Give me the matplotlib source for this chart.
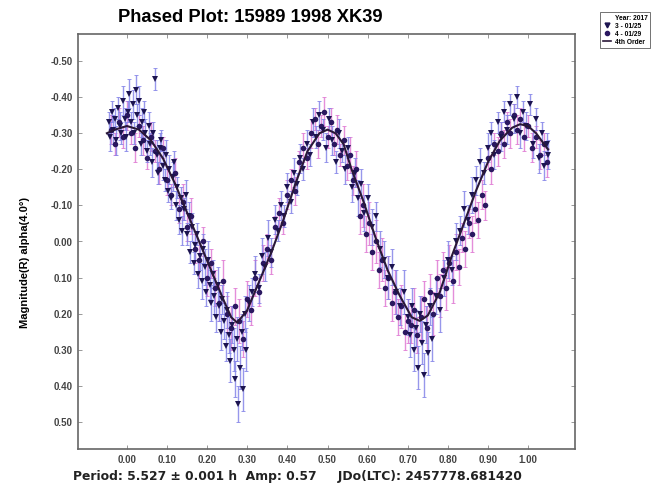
import numpy as np
import matplotlib
matplotlib.use("Agg")
import matplotlib.pyplot as plt
from matplotlib.lines import Line2D

plt.rcParams['font.family'] = ['Liberation Sans', 'DejaVu Sans']
plt.rcParams['axes.unicode_minus'] = False

# session 3 - 01/25 (triangles, blue error bars)
phase3 = [-0.045, -0.042, -0.038, -0.035, -0.030, -0.027, -0.022, -0.018, -0.014, -0.010,
          -0.006, -0.002, 0.002, 0.006, 0.010, 0.014, 0.018, 0.022, 0.026, 0.030,
          0.034, 0.038, 0.042, 0.046, 0.050, 0.054, 0.058, 0.062, 0.066, 0.070,
          0.074, 0.078, 0.082, 0.086, 0.090, 0.094, 0.098, 0.102, 0.106, 0.110,
          0.114, 0.118, 0.122, 0.126, 0.130, 0.134, 0.138, 0.142, 0.146, 0.150,
          0.154, 0.158, 0.162, 0.166, 0.170, 0.174, 0.178, 0.182, 0.186, 0.190,
          0.194, 0.198, 0.202, 0.206, 0.210, 0.214, 0.218, 0.222, 0.226, 0.230,
          0.234, 0.238, 0.242, 0.246, 0.250, 0.254, 0.258, 0.262, 0.266, 0.270,
          0.274, 0.278, 0.282, 0.286, 0.290, 0.294, 0.298, 0.305, 0.312, 0.320,
          0.328, 0.336, 0.344, 0.352, 0.360, 0.368, 0.376, 0.384, 0.392, 0.400,
          0.408, 0.416, 0.424, 0.432, 0.440, 0.448, 0.456, 0.464, 0.472, 0.480,
          0.488, 0.496, 0.504, 0.512, 0.520, 0.528, 0.536, 0.544, 0.552, 0.560,
          0.568, 0.576, 0.584, 0.592, 0.600, 0.610, 0.620, 0.630, 0.640, 0.650,
          0.660, 0.670, 0.680, 0.690, 0.700, 0.705, 0.710, 0.715, 0.720, 0.725,
          0.730, 0.735, 0.740, 0.745, 0.750, 0.755, 0.760, 0.770, 0.780, 0.790,
          0.800, 0.810, 0.820, 0.830, 0.840, 0.850, 0.860, 0.870, 0.880, 0.890,
          0.900, 0.908, 0.916, 0.924, 0.932, 0.940, 0.948, 0.956, 0.964, 0.972,
          0.980, 0.988, 0.996, 1.004, 1.012, 1.020, 1.028, 1.034, 1.040, 1.046,
          1.050]
mag3 = [-0.33, -0.29, -0.36, -0.31, -0.34, -0.28, -0.37, -0.32, -0.30, -0.39,
        -0.34, -0.29, -0.36, -0.41, -0.33, -0.38, -0.30, -0.42, -0.35, -0.39,
        -0.27, -0.33, -0.36, -0.30, -0.25, -0.32, -0.27, -0.22, -0.30, -0.45,
        -0.24, -0.19, -0.26, -0.28, -0.21, -0.17, -0.24, -0.14, -0.20, -0.12,
        -0.18, -0.22, -0.10, -0.15, -0.06, -0.12, -0.03, -0.09, -0.13, -0.02,
        -0.07, 0.03, -0.04, 0.06, 0.01, -0.02, 0.09, 0.04, 0.11, 0.02,
        0.07, 0.14, 0.05, 0.12, 0.17, 0.09, 0.15, 0.21, 0.12, 0.18,
        0.25, 0.16, 0.22, 0.29, 0.19, 0.26, 0.33, 0.23, 0.30, 0.38,
        0.27, 0.45, 0.35, 0.25, 0.41, 0.20, 0.30, 0.17, 0.14, 0.09,
        0.13, 0.04, 0.07, -0.01, 0.03, -0.06, -0.03, -0.10, -0.07, -0.15,
        -0.11, -0.19, -0.16, -0.23, -0.20, -0.27, -0.24, -0.33, -0.29, -0.35,
        -0.31, -0.26, -0.34, -0.28, -0.22, -0.30, -0.25, -0.20, -0.26, -0.15,
        -0.19, -0.12, -0.16, -0.08, -0.12, -0.04, -0.07, 0.02, 0.05, 0.10,
        0.07, 0.14, 0.18, 0.14, 0.21, 0.26, 0.18, 0.30, 0.24, 0.35,
        0.20, 0.28, 0.37, 0.23, 0.31, 0.18, 0.27, 0.15, 0.19, 0.10,
        0.05, 0.08, 0.00, -0.03, -0.09, -0.06, -0.13, -0.17, -0.22, -0.19,
        -0.26, -0.30, -0.24, -0.33, -0.29, -0.36, -0.31, -0.38, -0.34, -0.40,
        -0.30, -0.36, -0.32, -0.38, -0.27, -0.34, -0.23, -0.30, -0.21, -0.27,
        -0.24]
err3 = [0.03, 0.04, 0.03, 0.04, 0.03, 0.04, 0.03, 0.04, 0.03, 0.04,
        0.03, 0.04, 0.03, 0.04, 0.03, 0.04, 0.03, 0.04, 0.03, 0.04,
        0.03, 0.04, 0.03, 0.04, 0.03, 0.04, 0.03, 0.04, 0.03, 0.03,
        0.04, 0.03, 0.04, 0.03, 0.04, 0.03, 0.04, 0.03, 0.04, 0.03,
        0.04, 0.03, 0.04, 0.03, 0.04, 0.03, 0.04, 0.03, 0.04, 0.03,
        0.04, 0.03, 0.04, 0.03, 0.04, 0.03, 0.04, 0.04, 0.05, 0.04,
        0.05, 0.04, 0.05, 0.04, 0.05, 0.04, 0.05, 0.04, 0.05, 0.04,
        0.05, 0.04, 0.05, 0.04, 0.05, 0.05, 0.06, 0.05, 0.06, 0.05,
        0.06, 0.05, 0.06, 0.05, 0.06, 0.05, 0.06, 0.05, 0.04, 0.05,
        0.04, 0.05, 0.04, 0.05, 0.04, 0.04, 0.03, 0.04, 0.03, 0.04,
        0.03, 0.04, 0.03, 0.04, 0.03, 0.04, 0.03, 0.04, 0.03, 0.04,
        0.03, 0.04, 0.03, 0.04, 0.03, 0.04, 0.03, 0.04, 0.03, 0.04,
        0.04, 0.05, 0.04, 0.05, 0.04, 0.05, 0.04, 0.05, 0.05, 0.06,
        0.05, 0.06, 0.05, 0.06, 0.05, 0.06, 0.05, 0.06, 0.05, 0.06,
        0.05, 0.06, 0.06, 0.05, 0.06, 0.05, 0.06, 0.05, 0.06, 0.05,
        0.05, 0.04, 0.05, 0.04, 0.05, 0.04, 0.05, 0.04, 0.04, 0.03,
        0.04, 0.03, 0.04, 0.03, 0.04, 0.03, 0.04, 0.03, 0.04, 0.03,
        0.04, 0.03, 0.04, 0.03, 0.04, 0.03, 0.04, 0.03, 0.04, 0.03,
        0.04]

# session 4 - 01/29 (circles, pink error bars)
phase4 = [-0.040, -0.030, -0.020, -0.010, 0.000, 0.010, 0.020, 0.030, 0.040, 0.050,
          0.060, 0.070, 0.080, 0.090, 0.100, 0.110, 0.120, 0.130, 0.140, 0.150,
          0.160, 0.170, 0.180, 0.190, 0.200, 0.210, 0.220, 0.230, 0.240, 0.250,
          0.260, 0.270, 0.280, 0.290, 0.300, 0.310, 0.320, 0.330, 0.340, 0.350,
          0.360, 0.370, 0.380, 0.390, 0.400, 0.410, 0.420, 0.430, 0.440, 0.450,
          0.460, 0.468, 0.476, 0.484, 0.492, 0.500, 0.508, 0.516, 0.524, 0.532,
          0.540, 0.548, 0.556, 0.564, 0.572, 0.580, 0.588, 0.596, 0.604, 0.612,
          0.620, 0.628, 0.636, 0.644, 0.652, 0.660, 0.668, 0.676, 0.684, 0.692,
          0.700, 0.708, 0.716, 0.724, 0.732, 0.740, 0.748, 0.756, 0.764, 0.772,
          0.780, 0.788, 0.796, 0.804, 0.812, 0.820, 0.828, 0.836, 0.844, 0.852,
          0.860, 0.868, 0.876, 0.884, 0.892, 0.900, 0.908, 0.916, 0.924, 0.932,
          0.940, 0.948, 0.956, 0.964, 0.972, 0.980, 0.990, 1.000, 1.010, 1.020,
          1.030, 1.040, 1.048]
mag4 = [-0.31, -0.27, -0.33, -0.29, -0.35, -0.30, -0.26, -0.32, -0.28, -0.23,
        -0.29, -0.25, -0.20, -0.26, -0.17, -0.13, -0.19, -0.09, -0.11, -0.04,
        -0.07, 0.02, 0.05, 0.00, 0.10, 0.06, 0.13, 0.17, 0.11, 0.20,
        0.24, 0.18, 0.22, 0.27, 0.16, 0.19, 0.10, 0.14, 0.06, 0.02,
        0.05, -0.04, -0.08, -0.05, -0.13, -0.17, -0.14, -0.22, -0.26, -0.23,
        -0.30, -0.34, -0.27, -0.32, -0.36, -0.29, -0.33, -0.27, -0.31, -0.24,
        -0.28, -0.21, -0.24, -0.17, -0.20, -0.07, -0.10, -0.02, -0.05, 0.03,
        0.00, 0.08, 0.05, 0.13, 0.10, 0.17, 0.14, 0.21, 0.18, 0.25,
        0.22, 0.23, 0.19, 0.26, 0.21, 0.16, 0.24, 0.14, 0.20, 0.10,
        0.15, 0.08, 0.13, 0.06, 0.11, 0.03, 0.07, -0.01, 0.02, -0.05,
        -0.02, -0.09, -0.06, -0.13, -0.10, -0.23, -0.20, -0.27, -0.25, -0.30,
        -0.27, -0.33, -0.30, -0.35, -0.31, -0.34, -0.29, -0.32, -0.26, -0.29,
        -0.24, -0.27, -0.22]
err4 = [0.04, 0.03, 0.04, 0.03, 0.04, 0.03, 0.04, 0.03, 0.04, 0.03,
        0.04, 0.03, 0.04, 0.03, 0.04, 0.03, 0.04, 0.04, 0.05, 0.04,
        0.05, 0.04, 0.05, 0.04, 0.05, 0.04, 0.05, 0.05, 0.06, 0.05,
        0.06, 0.05, 0.06, 0.05, 0.05, 0.04, 0.05, 0.04, 0.05, 0.04,
        0.04, 0.03, 0.04, 0.03, 0.04, 0.03, 0.04, 0.03, 0.04, 0.03,
        0.04, 0.03, 0.04, 0.03, 0.04, 0.03, 0.04, 0.03, 0.04, 0.03,
        0.04, 0.04, 0.05, 0.04, 0.05, 0.05, 0.06, 0.05, 0.06, 0.05,
        0.06, 0.05, 0.06, 0.05, 0.06, 0.05, 0.06, 0.05, 0.06, 0.05,
        0.06, 0.05, 0.06, 0.05, 0.06, 0.05, 0.06, 0.05, 0.06, 0.05,
        0.06, 0.05, 0.06, 0.05, 0.06, 0.05, 0.05, 0.04, 0.05, 0.04,
        0.05, 0.04, 0.05, 0.04, 0.04, 0.03, 0.04, 0.03, 0.04, 0.03,
        0.04, 0.03, 0.04, 0.03, 0.04, 0.03, 0.04, 0.03, 0.04, 0.03,
        0.04, 0.03, 0.04]

# 4th order fit
fit_phase = [-0.05, -0.03, 0.00, 0.03, 0.06, 0.09, 0.12, 0.15, 0.18, 0.21,
             0.24, 0.26, 0.275, 0.30, 0.33, 0.36, 0.39, 0.42, 0.45, 0.48,
             0.50, 0.52, 0.54, 0.56, 0.59, 0.62, 0.65, 0.68, 0.71, 0.73,
             0.75, 0.78, 0.81, 0.84, 0.87, 0.90, 0.93, 0.96, 0.98, 1.00,
             1.02, 1.05]
fit_mag = [-0.30, -0.31, -0.32, -0.31, -0.28, -0.23, -0.16, -0.08, 0.00, 0.08,
           0.16, 0.21, 0.225, 0.19, 0.11, 0.03, -0.06, -0.16, -0.25, -0.30,
           -0.31, -0.30, -0.27, -0.20, -0.11, -0.01, 0.08, 0.15, 0.21, 0.22,
           0.205, 0.14, 0.04, -0.05, -0.14, -0.22, -0.28, -0.315, -0.325, -0.32,
           -0.30, -0.255]

xticks = [0.0, 0.1, 0.2, 0.3, 0.4, 0.5, 0.6, 0.7, 0.8, 0.9, 1.0]
yticks = [-0.5, -0.4, -0.3, -0.2, -0.1, 0.0, 0.1, 0.2, 0.3, 0.4, 0.5]

fig = plt.figure(figsize=(6.71, 4.90), dpi=100)
ax = fig.add_axes([78/671, 41/490, 497/671, 415/490])

ax.errorbar(phase4, mag4, yerr=err4, fmt='none', ecolor='#e07ad4', elinewidth=1.0,
            capsize=1.5, capthick=0.7, alpha=0.85)
ax.errorbar(phase3, mag3, yerr=err3, fmt='none', ecolor='#8585e8', elinewidth=1.0,
            capsize=1.5, capthick=0.7, alpha=0.85)
ax.plot(phase4, mag4, 'o', color='#2a1860', ms=4.0, mew=0)
ax.plot(phase3, mag3, 'v', color='#1c1450', ms=4.6, mew=0)
ax.plot(fit_phase, fit_mag, '-', color='#2a1838', lw=1.5)

ax.set_xlim(-0.122, 1.117)
ax.set_ylim(0.575, -0.575)
ax.set_xticks(xticks)
ax.set_yticks(yticks)
ax.set_xticklabels(['%.2f' % v for v in xticks])
ax.set_yticklabels(['%.2f' % v for v in yticks])
ax.tick_params(direction='in', length=3, width=0.6, top=True, right=True,
               labelsize=7, labelcolor='#444444', color='#888888', pad=4)
for lab in ax.get_xticklabels() + ax.get_yticklabels():
    lab.set_fontweight('bold')
for s in ax.spines.values():
    s.set_color('#666666')
    s.set_linewidth(1.2)

ax.set_ylabel('Magnitude(R) alpha(4.0\u00b0)', fontsize=8, fontweight='bold')
ax.yaxis.set_label_coords(-0.097, 0.45)

fig.text(250/671, 1 - 18/490, 'Phased Plot: 15989 1998 XK39', fontsize=13.2,
         fontweight='bold', ha='center', va='center')
fig.text(73/671, 1 - 476/490,
         'Period: 5.527 \u00b1 0.001 h  Amp: 0.57     JDo(LTC): 2457778.681420',
         fontsize=8.9, fontweight='bold', ha='left', va='center', color='#222222',
         family='DejaVu Sans')

handles = [Line2D([], [], linestyle='none'),
           Line2D([], [], marker='v', color='#1c1450', linestyle='none', ms=3.5),
           Line2D([], [], marker='o', color='#2a1860', linestyle='none', ms=3),
           Line2D([], [], color='#2a1838', lw=1.2)]
labels = ['Year: 2017', '3 - 01/25', '4 - 01/29', '4th Order']
leg = fig.legend(handles, labels, loc='upper left', bbox_to_anchor=(597/671, 1 - 9/490),
                 fontsize=4.8, frameon=True, fancybox=False, edgecolor='#333333',
                 handlelength=1.3, handletextpad=0.5, borderpad=0.35, labelspacing=0.15)
leg.get_frame().set_linewidth(0.6)
for t in leg.get_texts():
    t.set_fontweight('bold')

fig.savefig('out.png', dpi=100)
